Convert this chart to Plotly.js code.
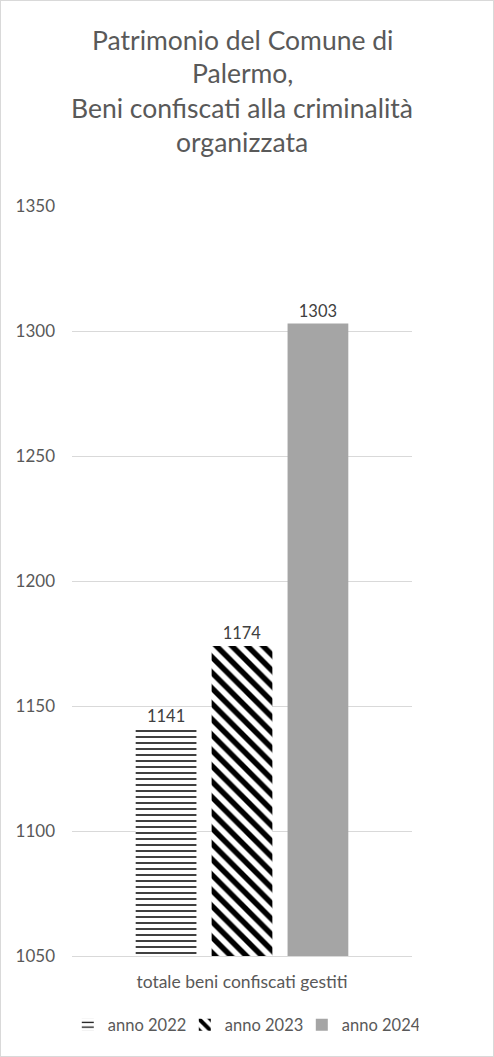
<!DOCTYPE html>
<html>
<head>
<meta charset="utf-8">
<script src="https://cdn.plot.ly/plotly-3.0.1.min.js"></script>
<style>
html,body{margin:0;padding:0;background:#fff;}
#wrap{position:absolute;left:0;top:0;width:494px;height:1057px;}
#chart{position:absolute;left:0;top:0;width:494px;height:1057px;}
#frame{position:absolute;left:0;top:0;width:492px;height:1055px;border:1px solid #d9d9d9;pointer-events:none;}
</style>
</head>
<body>
<div id="wrap"><div id="chart"></div><div id="frame"></div></div>
<script>
const categories = ["totale beni confiscati gestiti"];
const seriesNames = ["anno 2022", "anno 2023", "anno 2024"];
const values2022 = [1141];
const values2023 = [1174];
const values2024 = [1303];
const titleLines = ["Patrimonio del Comune di", "Palermo,", "Beni confiscati alla criminalità", "organizzata"];
const yTicks = [1050, 1100, 1150, 1200, 1250, 1300, 1350];

const FONT = "Lato, 'Open Sans', sans-serif";
const textFont = {family: FONT, size: 16.5, color: "#404040"};

const traces = [
  {
    type: "bar", name: seriesNames[0], x: categories, y: values2022,
    text: values2022.map(String), textposition: "outside", cliponaxis: false,
    textfont: textFont,
    marker: {color: "#ffffff", line: {width: 0},
      pattern: {shape: "-", fgcolor: "#000000", bgcolor: "#ffffff", fgopacity: 1, size: 6, solidity: 0.25, fillmode: "replace"}}
  },
  {
    type: "bar", name: seriesNames[1], x: categories, y: values2023,
    text: values2023.map(String), textposition: "outside", cliponaxis: false,
    textfont: textFont,
    marker: {color: "#ffffff", line: {width: 0},
      pattern: {shape: "\\", fgcolor: "#000000", bgcolor: "#ffffff", fgopacity: 1, size: 11, solidity: 0.5, fillmode: "replace"}}
  },
  {
    type: "bar", name: seriesNames[2], x: categories, y: values2024,
    text: values2024.map(String), textposition: "outside", cliponaxis: false,
    textfont: textFont,
    marker: {color: "#a5a5a5", line: {width: 0}}
  }
];

const plotTop = 206, plotBottom = 956, plotH = plotBottom - plotTop;
const titleY = [40, 73, 108, 142];
const annotations = titleLines.map((t, i) => ({
  text: t, xref: "paper", yref: "paper", x: 0.5, xanchor: "center",
  y: (plotBottom - titleY[i]) / plotH, yanchor: "middle", showarrow: false,
  font: {family: FONT, size: 26.5, color: "#595959"}
}));

const layout = {
  width: 494, height: 1057,
  margin: {l: 72, r: 82, t: plotTop, b: 1057 - plotBottom, pad: 0, autoexpand: false},
  paper_bgcolor: "#ffffff", plot_bgcolor: "#ffffff",
  showlegend: true,
  barmode: "group", bargap: 0.33, bargroupgap: 0.2,
  xaxis: {
    type: "category", showgrid: false, showline: true, linecolor: "#d9d9d9", linewidth: 1,
    ticks: "", tickfont: {family: FONT, size: 17.5, color: "#595959"}, ticklabelstandoff: 10,
    fixedrange: true, automargin: false
  },
  yaxis: {
    range: [1050, 1350], tickvals: yTicks, ticktext: yTicks.map(String),
    showgrid: true, gridcolor: "#d9d9d9", gridwidth: 1, zeroline: false, showline: false,
    ticks: "", tickfont: {family: FONT, size: 17, color: "#595959"}, ticklabelstandoff: 16,
    fixedrange: true, automargin: false
  },
  legend: {
    orientation: "h", xref: "paper", yref: "paper", x: 1.02, xanchor: "right",
    y: -69 / plotH, yanchor: "middle",
    font: {family: FONT, size: 16.5, color: "#595959"},
    entrywidth: 72, entrywidthmode: "pixels", itemwidth: 30, tracegroupgap: 0
  },
  annotations: annotations
};

Plotly.newPlot("chart", traces, layout, {staticPlot: true, displayModeBar: false});
</script>
</body>
</html>
